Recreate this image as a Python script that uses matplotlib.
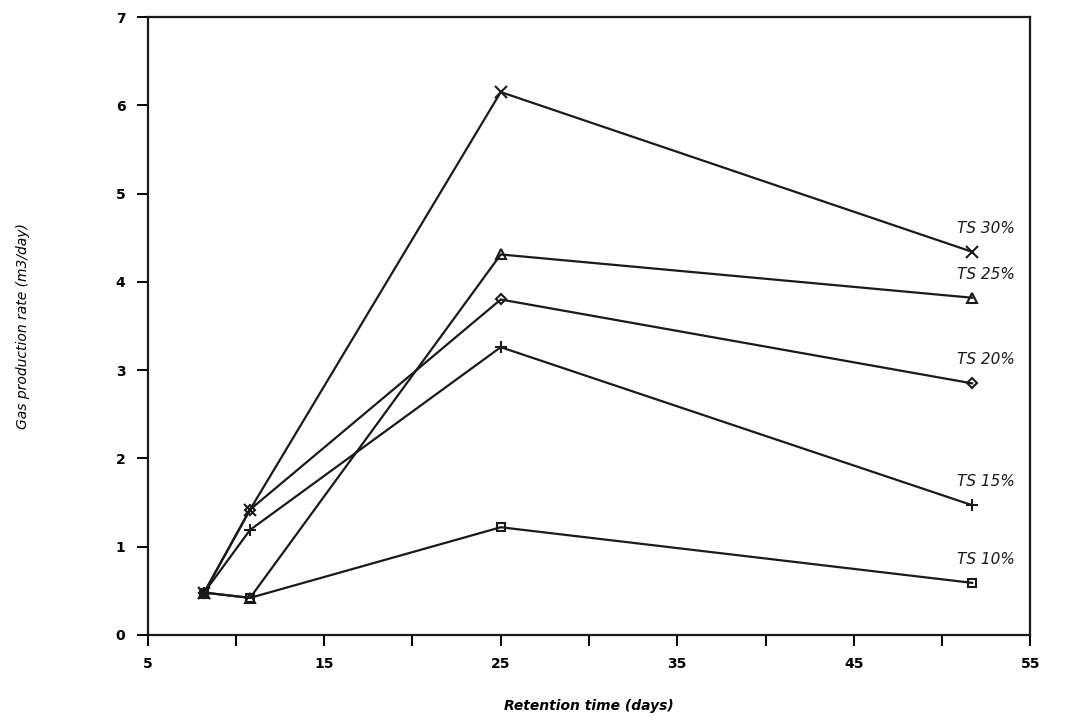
import matplotlib.pyplot as plt
from matplotlib.ticker import MultipleLocator

# retention time (days)
days = [8.2, 10.8, 25.0, 51.7]

ts30 = [0.48, 1.42, 6.15, 4.34]
ts25 = [0.48, 0.42, 4.31, 3.82]
ts20 = [0.48, 1.42, 3.80, 2.85]
ts15 = [0.48, 1.19, 3.26, 1.47]
ts10 = [0.48, 0.42, 1.22, 0.59]

labels = ["TS 30%", "TS 25%", "TS 20%", "TS 15%", "TS 10%"]
series = [ts30, ts25, ts20, ts15, ts10]
markers = ["x", "^", "D", "+", "s"]
msizes = [8, 7, 5, 9, 6]

if __name__ == "__main__":
    fig = plt.figure(figsize=(10.7, 7.24), dpi=100)
    ax = fig.add_axes([0.138, 0.123, 0.825, 0.8535])

    for vals, lab, m, ms in zip(series, labels, markers, msizes):
        ax.plot(days, vals, color="#1a1a1a", linewidth=1.6, marker=m,
                markersize=ms, markerfacecolor="none", markeredgewidth=1.5)
        ax.annotate(lab, xy=(days[-1], vals[-1]), xytext=(31, 17),
                    textcoords="offset points", ha="right", va="center",
                    fontsize=11, fontstyle="italic", color="#1a1a1a")

    ax.set_xlim(5, 55)
    ax.set_ylim(0, 7)
    ax.xaxis.set_minor_locator(MultipleLocator(5))
    ax.set_xticks([5, 15, 25, 35, 45, 55])
    ax.yaxis.set_major_locator(MultipleLocator(1))
    ax.tick_params(axis="both", which="both", direction="out", width=1.4,
                   labelsize=10, pad=8)
    ax.tick_params(axis="both", which="major", length=8)
    ax.tick_params(axis="x", which="minor", length=8)
    for lbl in ax.get_xticklabels() + ax.get_yticklabels():
        lbl.set_fontweight("bold")

    for sp in ax.spines.values():
        sp.set_linewidth(1.6)
        sp.set_color("#1a1a1a")

    ax.set_xlabel("Retention time (days)", fontsize=10, fontstyle="italic",
                  fontweight="bold", labelpad=20)
    ax.set_ylabel("Gas production rate (m3/day)", fontsize=10,
                  fontstyle="italic", labelpad=62)

    plt.savefig("out.png")
